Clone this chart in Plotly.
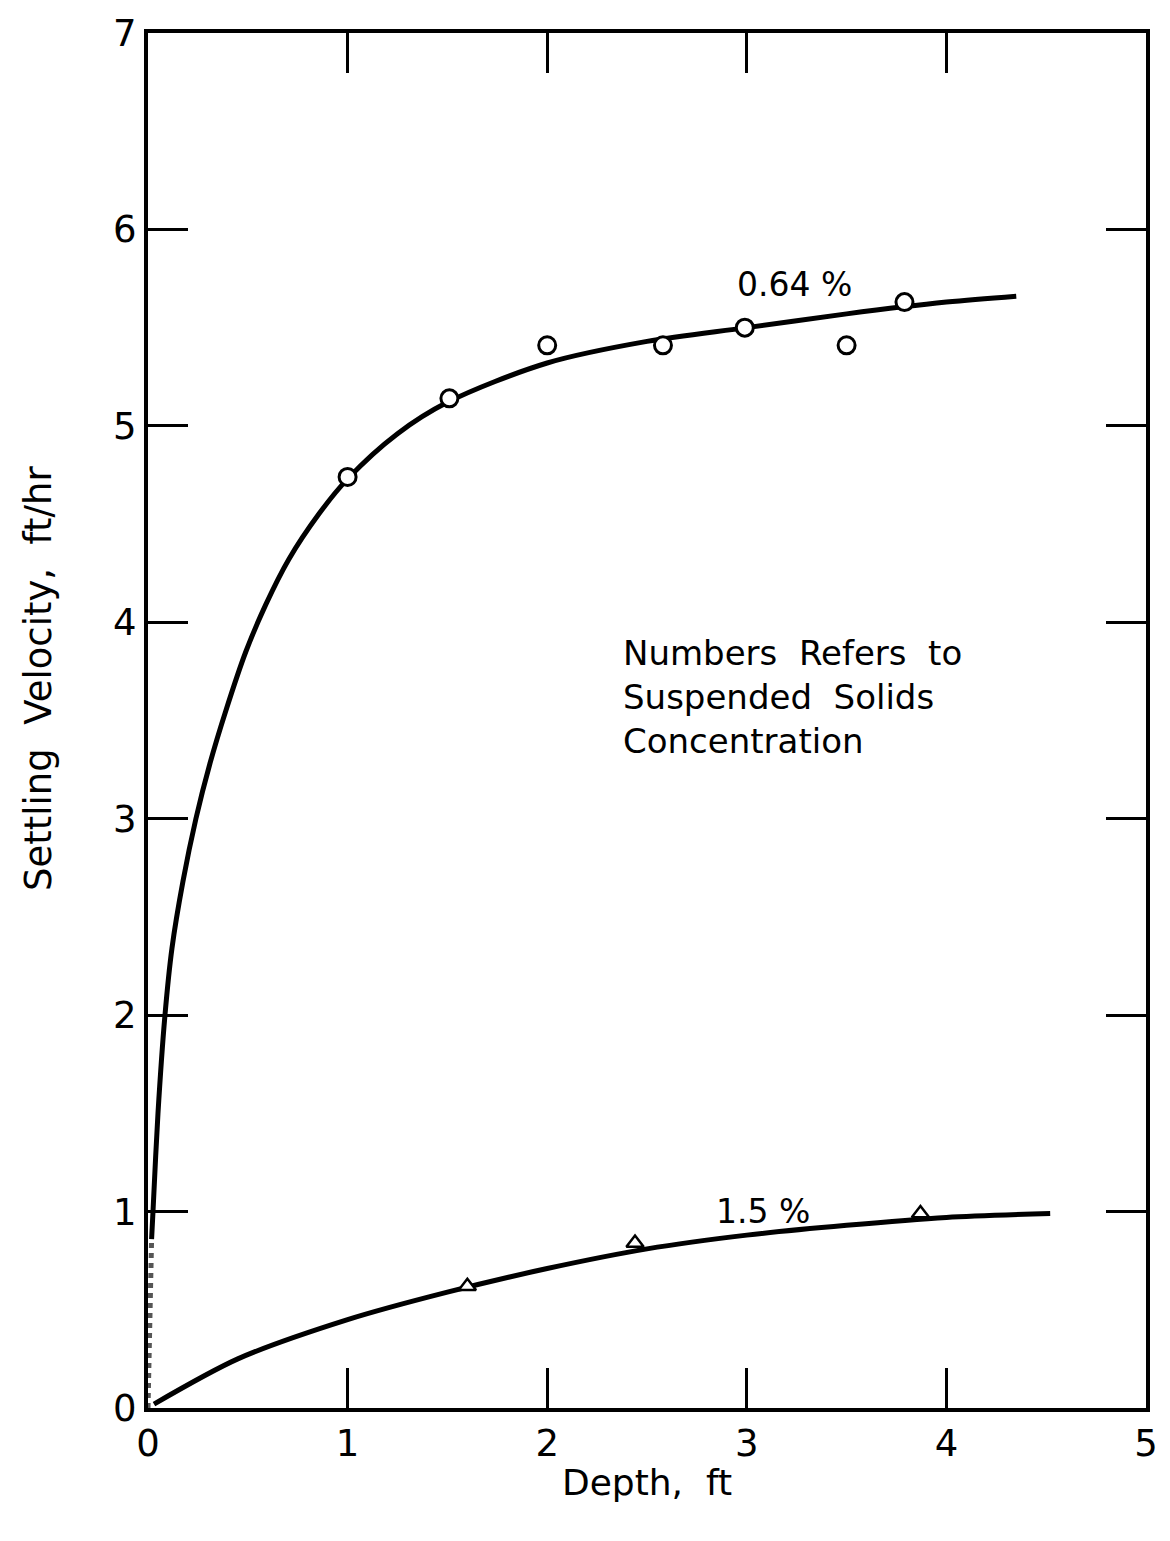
import plotly.graph_objects as go

# ---- data ----
# 0.64 % suspended solids: fitted curve and observed points
curve064_x = [0.018, 0.025, 0.05, 0.085, 0.12, 0.175, 0.24, 0.31, 0.39, 0.49, 0.59, 0.705, 0.855, 1.0,
              1.25, 1.5, 2.0, 2.5, 3.0, 3.5, 4.0, 4.35]
curve064_y = [0.86, 1.0, 1.5, 2.0, 2.34, 2.68, 3.0, 3.28, 3.55, 3.85, 4.09, 4.32, 4.55, 4.73,
              4.96, 5.12, 5.32, 5.43, 5.50, 5.57, 5.63, 5.66]
pts064_x = [1.0, 1.51, 2.0, 2.58, 2.99, 3.5, 3.79]
pts064_y = [4.74, 5.14, 5.41, 5.41, 5.50, 5.41, 5.63]

# hatched segment near the origin
hatch_x = [0.0, 0.018]
hatch_y = [0.0, 0.86]

# 1.5 % suspended solids: fitted curve and observed points
curve15_x = [0.03, 0.45, 1.0, 1.5, 2.0, 2.5, 3.0, 3.5, 4.0, 4.52]
curve15_y = [0.02, 0.25, 0.45, 0.59, 0.71, 0.81, 0.88, 0.93, 0.97, 0.99]
pts15_x = [1.6, 2.44, 3.87]
pts15_y = [0.62, 0.84, 0.99]

x_ticks = [0, 1, 2, 3, 4, 5]
y_ticks = [0, 1, 2, 3, 4, 5, 6, 7]

FONT = "DejaVu Sans"

fig = go.Figure()

fig.add_trace(go.Scatter(x=hatch_x, y=hatch_y, mode="lines",
                         line=dict(color="#555555", width=5, dash="dot"),
                         showlegend=False, hoverinfo="skip"))
fig.add_trace(go.Scatter(x=curve064_x, y=curve064_y, mode="lines",
                         line=dict(color="black", width=5, shape="spline", smoothing=0.9),
                         showlegend=False))
fig.add_trace(go.Scatter(x=curve15_x, y=curve15_y, mode="lines",
                         line=dict(color="black", width=5, shape="spline", smoothing=0.8),
                         showlegend=False))
fig.add_trace(go.Scatter(x=pts064_x, y=pts064_y, mode="markers",
                         marker=dict(symbol="circle", size=17, color="white",
                                     line=dict(color="black", width=3)),
                         showlegend=False))
fig.add_trace(go.Scatter(x=pts15_x, y=pts15_y, mode="markers",
                         marker=dict(symbol="triangle-up", size=15, color="white",
                                     line=dict(color="black", width=2.5)),
                         showlegend=False))

annotations = [
    dict(x=3.24, y=5.72, text="0.64 %", showarrow=False, xanchor="center", yanchor="middle",
         font=dict(size=33, color="black", family=FONT)),
    dict(x=3.08, y=1.0, text="1.5 %", showarrow=False, xanchor="center", yanchor="middle",
         font=dict(size=33, color="black", family=FONT)),
    dict(x=2.37, y=3.62, text="Numbers  Refers  to<br>Suspended  Solids<br>Concentration",
         showarrow=False, xanchor="left", yanchor="middle", align="left",
         font=dict(size=34, color="black", family=FONT)),
    # y-axis title (placed as in the reference, slightly above centre)
    dict(xref="paper", yref="paper", x=-0.109, y=0.531, text="Settling  Velocity,  ft/hr",
         textangle=-90, showarrow=False, xanchor="center", yanchor="middle",
         font=dict(size=37, color="black", family=FONT)),
]

fig.update_layout(
    width=1170, height=1541,
    margin=dict(l=148, r=14, t=30, b=133),
    paper_bgcolor="white", plot_bgcolor="white",
    font=dict(family=FONT, color="black"),
    annotations=annotations,
    xaxis=dict(range=[0, 5], tickvals=x_ticks, ticktext=[str(v) for v in x_ticks],
               ticks="inside", ticklen=40, tickwidth=3, tickcolor="black",
               showline=True, linewidth=4, linecolor="black", mirror="ticks",
               showgrid=False, zeroline=False,
               tickfont=dict(size=37, family=FONT),
               title=dict(text="Depth,  ft", font=dict(size=36, family=FONT), standoff=6)),
    yaxis=dict(range=[0, 7], tickvals=y_ticks, ticktext=[str(v) for v in y_ticks],
               ticks="inside", ticklen=40, tickwidth=3, tickcolor="black",
               showline=True, linewidth=4, linecolor="black", mirror="ticks",
               showgrid=False, zeroline=False,
               tickfont=dict(size=37, family=FONT)),
)

fig.write_html("out.html")
